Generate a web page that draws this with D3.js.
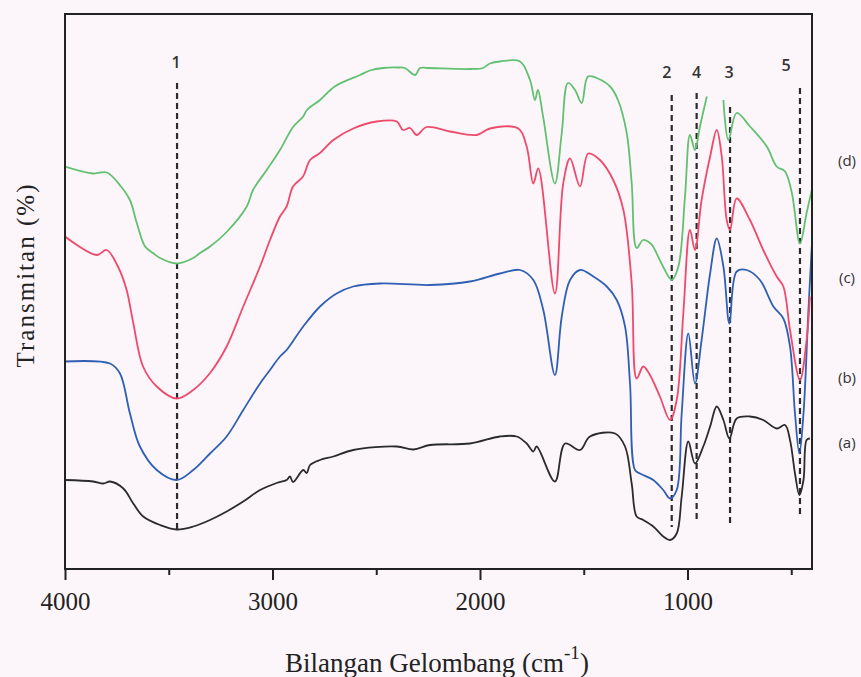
<!DOCTYPE html>
<html>
<head>
<meta charset="utf-8">
<script src="https://cdn.jsdelivr.net/npm/d3@7/dist/d3.min.js"></script>
<style>
  html, body { margin: 0; padding: 0; background: #fcf6fa; }
  svg { display: block; }
</style>
</head>
<body>
<svg id="chart" width="861" height="677"></svg>
<script>
// ---- data (wavenumber cm^-1, transmittance in arbitrary offset units) ----
const seriesA = [ // (a) black
  [4000,17.8],[3864,17.5],[3815,17.1],[3783,17.5],[3719,16.1],[3671,13.1],[3623,10.5],[3542,8.8],
  [3462,7.9],[3382,8.5],[3301,9.8],[3221,11.5],[3141,13.5],[3060,15.8],[2980,17.2],[2932,17.8],
  [2916,18.5],[2901,17.4],[2852,19.8],[2835,19.2],[2819,20.8],[2771,21.8],[2707,22.5],[2611,23.8],
  [2401,24.5],[2321,23.9],[2241,24.8],[2048,25.1],[1904,26.5],[1823,26.5],[1775,25.1],[1743,23.5],
  [1727,24.5],[1639,17.5],[1590,25.1],[1518,23.8],[1470,26.5],[1349,27.1],[1301,24.5],[1269,17.1],
  [1245,10.5],[1213,9.8],[1165,8.5],[1117,6.5],[1084,5.8],[1052,7.1],[1028,14.5],[996,25.5],
  [964,21.1],[924,24.5],[891,28.5],[859,32.5],[827,29.8],[798,26.1],[763,30.1],[699,30.5],
  [635,29.8],[570,28.1],[530,28.8],[506,25.8],[482,19.1],[461,14.8],[441,17.8],[426,25.8],[410,26.1]
];
const seriesB = [ // (b) blue
  [4000,41.5],[3783,41.1],[3735,39.1],[3687,31.1],[3639,24.5],[3558,19.8],[3462,17.8],[3382,19.8],
  [3301,23.1],[3221,26.5],[3141,31.8],[3060,37.1],[3012,39.8],[2964,42.5],[2932,43.8],[2852,48.5],
  [2771,52.5],[2691,55.1],[2611,56.5],[2482,57.1],[2241,56.8],[2048,57.5],[1904,59.1],[1807,59.8],
  [1743,57.8],[1695,51.8],[1639,38.8],[1606,50.5],[1566,57.8],[1518,59.8],[1454,58.5],[1389,56.5],
  [1341,53.8],[1301,48.5],[1277,37.1],[1253,19.8],[1229,19.1],[1165,17.8],[1117,15.8],[1084,14.1],
  [1052,15.8],[1028,31.1],[996,47.1],[964,37.1],[932,45.8],[891,59.1],[859,66.1],[827,60.5],
  [798,49.1],[763,59.5],[715,59.8],[651,57.8],[586,52.5],[538,50.1],[506,44.5],[482,31.1],
  [461,23.1],[441,31.1],[418,51.1],[401,64.5]
];
const seriesC = [ // (c) red
  [4000,66.5],[3847,62.8],[3799,63.8],[3745,60.5],[3703,55.8],[3671,49.2],[3624,40.5],[3558,36.5],
  [3462,34.1],[3382,35.8],[3301,39.2],[3221,44.5],[3141,52.5],[3060,60.5],[3012,65.8],[2964,70.5],
  [2932,72.5],[2901,76.5],[2853,78.5],[2819,81.8],[2771,83.2],[2707,85.8],[2611,88.1],[2498,89.5],
  [2401,89.5],[2371,87.8],[2337,88.2],[2305,86.8],[2257,88.4],[2145,87.5],[2016,86.8],[1952,88.1],
  [1815,88.1],[1775,84.5],[1743,77.1],[1719,80.1],[1639,55.1],[1599,77.1],[1566,82.1],[1518,76.5],
  [1478,83.1],[1422,81.8],[1358,77.8],[1309,71.8],[1269,57.2],[1245,38.1],[1213,40.5],[1181,38.8],
  [1133,34.5],[1084,29.8],[1052,33.8],[1020,51.2],[988,67.8],[964,63.8],[932,73.8],[891,82.5],
  [859,87.8],[835,82.5],[811,69.8],[795,67.8],[763,74.1],[699,69.8],[635,63.8],[570,58.5],
  [538,56.5],[506,47.8],[458,37.8],[426,45.8],[410,54.5]
];
const seriesD = [ // (d) green; null = segment hidden behind the labels
  [4000,80.5],[3864,79.1],[3799,79.3],[3730,76.5],[3687,73.8],[3654,69.2],[3614,64.5],[3576,63.2],
  [3542,62.2],[3462,61.1],[3382,62.2],[3349,63.2],[3301,64.5],[3221,67.4],[3124,72.5],[3094,75.8],
  [3028,79.8],[2964,83.8],[2901,88.4],[2852,90.5],[2834,91.8],[2771,93.8],[2700,96.5],[2578,98.8],
  [2530,99.7],[2467,100.2],[2395,100.3],[2362,100.2],[2313,98.8],[2289,100.2],[2255,100.2],[2048,100],
  [1986,100.2],[1952,101.1],[1904,101.5],[1807,101.5],[1759,97.8],[1735,93.8],[1721,95.8],[1696,90.5],
  [1639,77.1],[1606,87.2],[1576,97.2],[1542,95.8],[1510,93.2],[1480,98.5],[1438,98.2],[1373,96.5],
  [1335,93.8],[1293,87.2],[1269,77.2],[1245,64.2],[1214,65.8],[1181,65.2],[1166,64.5],[1118,60.5],
  [1076,57.8],[1044,60.5],[1012,74.5],[988,86.8],[964,83.8],[940,88.5],[907,94.5],[870,null],
  [827,93.8],[803,85.8],[763,91.2],[699,88.5],[618,84.5],[570,80.5],[530,79.5],[497,75.2],
  [458,65.1],[426,71.2],[401,75.8]
];
const seriesNames = ["(a)", "(b)", "(c)", "(d)"];
const seriesColors = ["#2b2b2b", "#2f5fb3", "#ee4a6c", "#62c071"];
const seriesLabelPx = [442, 377, 277, 160];

const peakLabels = ["1", "2", "4", "3", "5"];
const peakWn     = [3460, 1076, 956, 795, 458];
const peakTop    = [97.2, 94.8, 95.2, 92.4, 96.2];
const peakBottom = [7.8, 8.4, 9.4, 8.8, 10.4];
const peakLabelWn = [3465, 1100, 956, 800, 525];
const peakLabelY  = [101.5, 99.5, 99.5, 99.5, 100.8];

const majorTicks = [4000, 3000, 2000, 1000];
const minorTicks = [3500, 2500, 1500, 500];

// ---- layout ----
const svg = d3.select("#chart");
const L = 65, R = 812, T = 14, B = 569;
const x = d3.scaleLinear().domain([4000, 400]).range([L, R]);
const y = d3.scaleLinear().domain([0, 111]).range([B, T]);

svg.append("defs").append("clipPath").attr("id", "clip")
  .append("rect").attr("x", L).attr("y", T).attr("width", R - L).attr("height", B - T);

const g = svg.append("g").attr("clip-path", "url(#clip)");
peakWn.forEach((w, i) => {
  g.append("line")
    .attr("x1", x(w)).attr("x2", x(w))
    .attr("y1", y(peakTop[i])).attr("y2", y(peakBottom[i]))
    .attr("stroke", "#2a2a2a").attr("stroke-width", 2.2)
    .attr("stroke-dasharray", "6,4");
});

const line = d3.line()
  .defined(d => d[1] != null)
  .x(d => x(d[0])).y(d => y(d[1]))
  .curve(d3.curveCatmullRom.alpha(0.5));
[seriesA, seriesB, seriesC, seriesD].forEach((s, i) => {
  g.append("path").datum(s)
    .attr("fill", "none")
    .attr("stroke", seriesColors[i])
    .attr("stroke-width", 1.8)
    .attr("stroke-linejoin", "round")
    .attr("d", line);
});

svg.append("rect").attr("x", L).attr("y", T).attr("width", R - L).attr("height", B - T)
  .attr("fill", "none").attr("stroke", "#222").attr("stroke-width", 2);

const axis = d3.axisBottom(x).tickValues(majorTicks).tickSize(11).tickPadding(12)
  .tickFormat(d3.format("d"));
const ax = svg.append("g").attr("transform", `translate(0,${B})`).call(axis);
ax.select(".domain").remove();
ax.selectAll(".tick line").attr("stroke", "#222").attr("stroke-width", 2);
ax.selectAll(".tick text")
  .attr("font-family", "'Liberation Serif', 'Times New Roman', serif")
  .attr("font-size", 25).attr("fill", "#222");
const axMinor = d3.axisBottom(x).tickValues(minorTicks).tickSize(6).tickFormat("");
const axm = svg.append("g").attr("transform", `translate(0,${B})`).call(axMinor);
axm.select(".domain").remove();
axm.selectAll(".tick line").attr("stroke", "#222").attr("stroke-width", 2);

const xt = svg.append("text")
  .attr("x", 437).attr("y", 672)
  .attr("text-anchor", "middle")
  .attr("font-family", "'Liberation Serif', 'Times New Roman', serif")
  .attr("font-size", 27).attr("fill", "#222");
xt.append("tspan").text("Bilangan Gelombang (cm");
xt.append("tspan").attr("font-size", 19).attr("dy", -13).text("-1");
xt.append("tspan").attr("dy", 13).text(")");

svg.append("text")
  .attr("transform", "translate(34,276) rotate(-90)")
  .attr("text-anchor", "middle")
  .attr("font-family", "'Liberation Serif', 'Times New Roman', serif")
  .attr("font-size", 25).attr("fill", "#222")
  .attr("textLength", 183).attr("lengthAdjust", "spacing")
  .text("Transmitan (%)");

peakLabels.forEach((t, i) => {
  svg.append("text")
    .attr("x", x(peakLabelWn[i])).attr("y", y(peakLabelY[i]))
    .attr("text-anchor", "middle").attr("dominant-baseline", "central")
    .attr("font-family", "'Open Sans', 'DejaVu Sans', sans-serif")
    .attr("font-size", 16).attr("font-weight", 600).attr("fill", "#333")
    .text(t);
});

seriesNames.forEach((t, i) => {
  svg.append("text")
    .attr("x", 847).attr("y", seriesLabelPx[i])
    .attr("text-anchor", "middle").attr("dominant-baseline", "central")
    .attr("font-family", "'Open Sans', 'DejaVu Sans', sans-serif")
    .attr("font-size", 15).attr("fill", "#333")
    .text(t);
});
</script>
</body>
</html>
